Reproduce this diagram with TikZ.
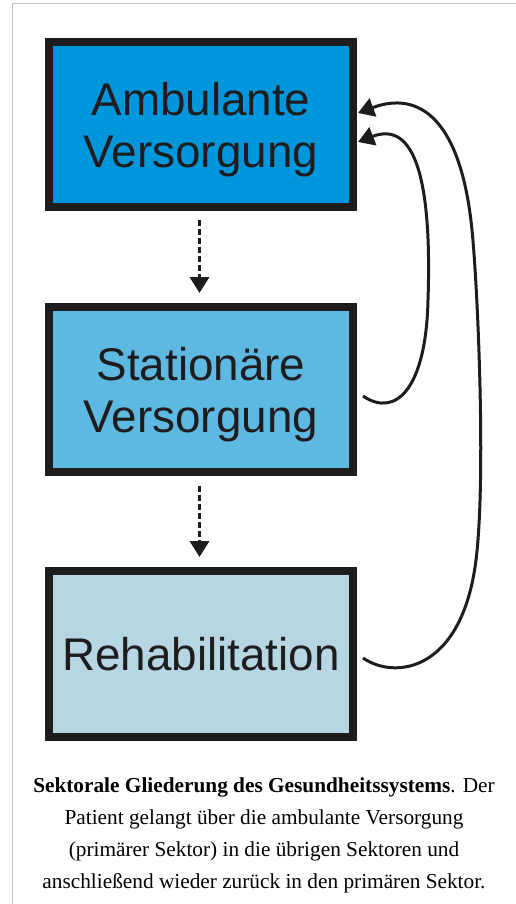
\documentclass[tikz,border=0pt]{standalone}
\usepackage{fontspec}
\setmainfont{Liberation Serif}
\newfontfamily\kastenfont{Liberation Sans}
\usetikzlibrary{arrows.meta}
\definecolor{ambublau}{RGB}{0,150,220}
\definecolor{statblau}{RGB}{94,185,226}
\definecolor{rehablau}{RGB}{182,214,227}
\definecolor{rahmengrau}{RGB}{192,192,192}
\definecolor{kantenschwarz}{RGB}{30,28,28}
\tikzset{
	sektor/.style={draw=kantenschwarz, line width=8pt, minimum width=304pt, minimum height=165pt, inner sep=0pt, align=center, text depth=0pt, text=kantenschwarz, font=\kastenfont\fontsize{45.8}{52}\selectfont},
	pfeilgestrichelt/.style={line width=3.5pt, kantenschwarz, dash pattern=on 6pt off 3pt, -{Triangle[length=16pt,width=19pt]}},
	rueckpfeil/.style={line width=3pt, kantenschwarz, -{Triangle[length=16pt,width=19pt]}}
}

\begin{document}
\begin{tikzpicture}[x=1pt,y=-1pt]
			%%%%% START %%%%%
			\useasboundingbox (0,0) rectangle (516,904);
			\draw[rahmengrau, line width=1pt] (12,904) -- (12,4) -- (516,4);
			
			\node[sektor, fill=ambublau] (ambulant) at (201,124.5) {Ambulante\\Versorgung};
			\node[sektor, fill=statblau] (stationaer) at (201,389.5) {Stationäre\\Versorgung};
			\node[sektor, fill=rehablau, minimum height=166pt] (reha) at (201,654) {Rehabilitation};
			
			\draw[pfeilgestrichelt, shorten <=9pt, shorten >=10pt] ([xshift=-1.5pt]ambulant.south) -- ([xshift=-1.5pt]stationaer.north);
			\draw[pfeilgestrichelt, shorten <=10pt, shorten >=10pt] ([xshift=-1.5pt]stationaer.south) -- ([xshift=-1.5pt]reha.north);
			
			\draw[rueckpfeil] ([xshift=6pt,yshift=-4pt]reha.east) .. controls (395,680) and (462,672) .. (476,560)
				.. controls (486,480) and (478,290) .. (472,230)
				.. controls (461,120) and (420,90) .. ([xshift=1pt,yshift=11.5pt]ambulant.east);
			\draw[rueckpfeil] ([xshift=6pt,yshift=-6.5pt]stationaer.east) .. controls (395,418) and (426,390) .. (428,300)
				.. controls (432,180) and (415,120) .. ([xshift=1pt,yshift=-17.5pt]ambulant.east);
			
			\node[font=\fontsize{21.3}{32}\selectfont, align=center] (legende) at (264,835) {\textbf{Sektorale Gliederung des Gesundheitssystems}. Der\\Patient gelangt über die ambulante Versorgung\\(primärer Sektor) in die übrigen Sektoren und\\anschließend wieder zurück in den primären Sektor.};
			%%%%% END %%%%%
\end{tikzpicture}
\end{document}
